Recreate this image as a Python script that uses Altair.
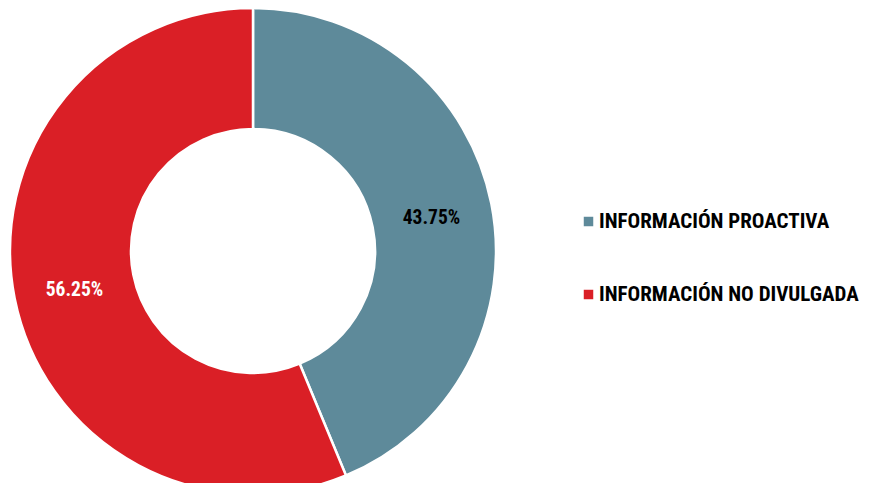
import altair as alt
import pandas as pd

categories = ["INFORMACIÓN PROACTIVA", "INFORMACIÓN NO DIVULGADA"]
values = [43.75, 56.25]
labels = ["43.75%", "56.25%"]
label_colors = ["#000000", "#ffffff"]
colors = ["#5E8A9A", "#DA1F26"]

df = pd.DataFrame({
    "cat": categories,
    "val": values,
    "lab": labels,
    "lc": label_colors,
    "order": [0, 1],
})

FONT = "Liberation Sans Narrow, Arial Narrow, Roboto Condensed, Liberation Sans, sans-serif"

base = alt.Chart(df).encode(
    theta=alt.Theta("val:Q", stack=True),
    order=alt.Order("order:Q"),
)

arc = base.mark_arc(
    innerRadius=122, outerRadius=243, stroke="white", strokeWidth=2.5
).encode(
    x=alt.value(245),
    y=alt.value(243),
    color=alt.Color(
        "cat:N",
        scale=alt.Scale(domain=categories, range=colors),
        sort=categories,
        legend=alt.Legend(
            title=None,
            orient="none",
            legendX=570,
            legendY=203,
            symbolType="square",
            symbolSize=90,
            symbolStrokeWidth=0,
            labelFont=FONT,
            labelFontSize=21,
            labelFontWeight="bold",
            labelColor="#000000",
            labelOffset=0,
            rowPadding=51,
            labelLimit=400,
        ),
    ),
)

text = base.mark_text(
    radius=182, font=FONT, fontSize=19.5, fontWeight="bold", dy=3
).encode(
    x=alt.value(245),
    y=alt.value(243),
    text="lab:N",
    color=alt.Color("lc:N", scale=None),
)

chart = alt.layer(arc, text).properties(
    width=854, height=475, autosize=alt.AutoSizeParams(type="none"), padding=0
).configure_view(stroke=None)

chart.save("out.html", embed_options={"renderer": "svg", "actions": False})
